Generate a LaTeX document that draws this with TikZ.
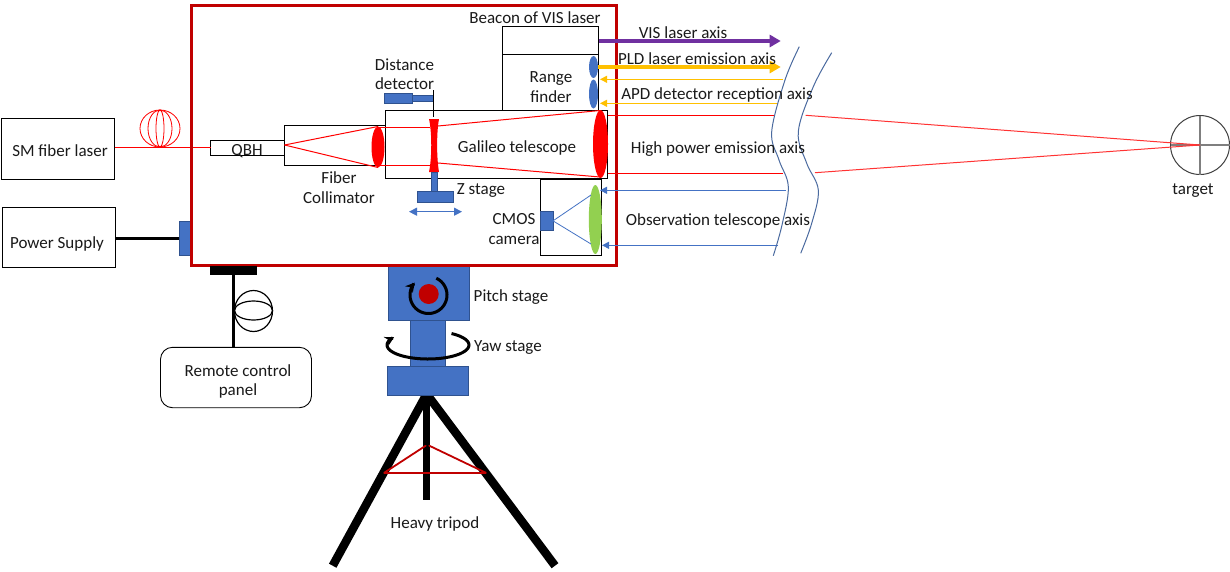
\documentclass[tikz,border=0pt]{standalone}
\usepackage{fontspec}
\setmainfont{Carlito}
\usetikzlibrary{arrows.meta,shapes.geometric}
\definecolor{frameRed}{HTML}{C00000}
\definecolor{stageBlue}{HTML}{4472C4}
\definecolor{stageEdge}{HTML}{2F528F}
\definecolor{visPurple}{HTML}{7030A0}
\definecolor{pldYellow}{HTML}{FFC000}
\definecolor{lensGreen}{HTML}{92D050}
\definecolor{breakBlue}{HTML}{4A6A9F}
\definecolor{crossGray}{HTML}{7F7F7F}
\definecolor{targetEdge}{HTML}{404040}
\definecolor{inkText}{HTML}{1A1A1A}
\tikzset{
  x=1pt,y=-1pt,
  box/.style={draw=black,line width=.9pt,inner sep=0pt,outer sep=0pt},
  txt/.style={inner sep=0pt,outer sep=0pt,align=center,text=inkText,yshift=-.8pt,font=\fontsize{17}{19.5}\selectfont},
  solid blue/.style={fill=stageBlue,draw=stageEdge,line width=1pt,inner sep=0pt,outer sep=0pt},
  lens/.style={ellipse,inner sep=0pt,outer sep=0pt,draw=none},
  beam/.style={draw=red,line width=1pt},
  thin yellow/.style={draw=pldYellow,line width=1pt,-{Triangle[length=7pt,width=7pt]}},
  thin blue/.style={draw=stageBlue,line width=1pt,-{Triangle[length=7pt,width=7pt]}},
  thick axis/.style={line width=3.6pt,-{Triangle[length=11pt,width=12pt]}},
  cable/.style={draw=black,line width=3pt},
  leg/.style={draw=black,line width=8.5pt},
  strut/.style={draw=frameRed,line width=1.8pt,line cap=round},
  turn/.style={draw=black,line width=3pt,-{Stealth[length=9pt,width=10pt]}},
  break line/.style={draw=breakBlue,line width=1pt}
}
\begin{document}
\begin{tikzpicture}
\useasboundingbox (0,0) rectangle (1230,571);
\fill[white] (0,0) rectangle (1230,571);

% boxes
\node[box,minimum width=113pt,minimum height=61pt] (sm) at (58,148.5) {};
\node[box,minimum width=113pt,minimum height=60pt] (ps) at (59,237) {};
\node[box,minimum width=74pt,minimum height=14.5pt] (qbh) at (247.5,147.75) {};
\node[box,minimum width=101pt,minimum height=40pt] (collimator) at (335,145) {};
\node[box,minimum width=221.5pt,minimum height=68pt] (galileo) at (496.25,144) {};
\node[box,minimum width=96pt,minimum height=28pt] (beacon) at (550.5,40.5) {};
\node[box,minimum width=96pt,minimum height=55.5pt] (range) at (550.5,82.25) {};
\node[box,minimum width=61pt,minimum height=76pt] (cmos) at (570.8,217.3) {};
\node[box,rounded corners=12pt,minimum width=151pt,minimum height=60.4pt] (remote) at (236,377.5) {};

% tripod
\coordinate (apex) at (426.7,394);
\coordinate (legL) at (332.7,565.7);
\coordinate (legR) at (555,565.7);
\coordinate (legC) at (426.7,500);
\draw[leg] (apex) -- (legL);
\draw[leg] (apex) -- (legR);
\draw[leg,line width=7.3pt] (apex) -- (legC);
\coordinate (sL) at (384.3,472.7);
\coordinate (sR) at (485.7,472.7);
\coordinate (sTL) at (425.7,445.7);
\coordinate (sTR) at (429.3,445.7);
\draw[strut] (sL) -- (sR);
\draw[strut] (sL) -- (sTL);
\draw[strut] (sR) -- (sTR);

% stages
\node[solid blue,minimum width=81.4pt,minimum height=55.2pt] (pitch) at (429,293.1) {};
\node[solid blue,minimum width=34.7pt,minimum height=45.3pt] (yawcol) at (427.65,343.35) {};
\node[solid blue,minimum width=81.4pt,minimum height=29.7pt] (yawbase) at (428,380.85) {};
\node[circle,fill=frameRed,inner sep=0pt,outer sep=0pt,minimum size=20pt] (pivot) at (428.7,294) {};
\draw[turn] plot[domain=65:-222,samples=50,smooth,variable=\t] ({428.5+18.5*cos(\t)},{295-18.5*sin(\t)});
\draw[turn] plot[domain=55:-214,samples=60,smooth,variable=\t] ({428*1+41*cos(\t)},{345-14*sin(\t)});

% collimator and fibre
\coordinate (coilL) at (114.5,147.3);
\node[draw=red,ellipse,line width=.8pt,inner sep=0pt,minimum width=40pt,minimum height=37pt] (coil) at (160,128.5) {};
\node[draw=red,ellipse,line width=.8pt,inner sep=0pt,minimum width=24pt,minimum height=37pt] (coilb) at (160,128.5) {};
\node[draw=red,ellipse,line width=.8pt,inner sep=0pt,minimum width=8pt,minimum height=37pt] (coilc) at (160,128.5) {};
\draw[beam] (sm.east |- coilL) -- (qbh.west |- coilL);

% lenses
\node[lens,fill=red,minimum width=13pt,minimum height=41pt] (collens) at (378,147) {};
\node[lens,fill=red,minimum width=15pt,minimum height=68pt] (mainlens) at (600.5,144) {};
\node[lens,fill=stageBlue,minimum width=9pt,minimum height=22pt] (rf1) at (593.5,67) {};
\node[lens,fill=stageBlue,minimum width=9pt,minimum height=29pt] (rf2) at (593.5,94) {};
\node[lens,fill=lensGreen,minimum width=13pt,minimum height=69pt] (obslens) at (595.3,219.5) {};
\fill[red] (429,119) -- (439,119) .. controls (436.5,132) and (436.5,158) .. (439,172)
  -- (429,172) .. controls (432,158) and (432,132) .. (429,119) -- cycle;

% internal beams
\draw[beam] (collimator.west) -- (collens.north);
\draw[beam] (collimator.west) -- (collens.south);
\coordinate (bT) at (430,127.5);
\coordinate (bB) at (430,165.5);
\coordinate (bRT) at (438,126);
\coordinate (bRB) at (438,163);
\coordinate (mT) at (600,110.5);
\coordinate (mB) at (600,177);
\draw[beam] (collens.north |- bT) -- (bT);
\draw[beam] (collens.south |- bB) -- (bB);
\draw[beam] (bRT) -- (mT);
\draw[beam] (bRB) -- (mB);

% distance detector, Z stage
\node[solid blue,minimum width=28.7pt,minimum height=10pt] (dist) at (398.35,98.3) {};
\node[solid blue,minimum width=20.3pt,minimum height=5.7pt] (distb) at (422.85,98.3) {};
\coordinate (dT) at (433,90);
\coordinate (dB) at (433,117);
\draw[draw=black,line width=1pt] (dT) -- (dB);
\node[solid blue,minimum width=5.7pt,minimum height=19pt] (zstem) at (434.15,181.5) {};
\node[solid blue,minimum width=35.7pt,minimum height=11.7pt] (zbase) at (435.15,196.85) {};
\coordinate (zaL) at (409,211.7);
\coordinate (zaR) at (462,211.7);
\draw[draw=stageBlue,color=stageBlue,line width=1.2pt,{Triangle[length=8pt,width=8pt]}-{Triangle[length=8pt,width=8pt]}] (zaL) -- (zaR);

% CMOS
\node[solid blue,minimum width=12.7pt,minimum height=19.7pt] (cam) at (546.65,220.85) {};
\coordinate (oT) at (591,195);
\coordinate (oB) at (591,244);
\draw[draw=stageBlue,line width=.8pt] (cam.east) -- (oT);
\draw[draw=stageBlue,line width=.8pt] (cam.east) -- (oB);

% main frame and fittings
\node[solid blue,minimum width=12.5pt,minimum height=34pt] (psconn) at (185.25,238) {};
\node[draw=frameRed,line width=3pt,inner sep=0pt,outer sep=0pt,minimum width=425pt,minimum height=260.5pt] (frame) at (404,135.25) {};
\draw[cable] (ps.east |- psconn) -- (psconn.west);
\node[fill=black,inner sep=0pt,outer sep=0pt,minimum width=47pt,minimum height=8.5pt] (mount) at (233.5,270.5) {};
\draw[cable] (mount.south) -- (mount.south |- remote.north);
\node[draw=black,ellipse,line width=1.2pt,inner sep=0pt,minimum width=38pt,minimum height=41pt] (globe) at (253.5,311) {};
\node[draw=black,ellipse,line width=1.2pt,inner sep=0pt,minimum width=38pt,minimum height=19pt] (globeb) at (253.5,310.5) {};

% output axes
\coordinate (visE) at (780.7,41);
\coordinate (pldE) at (780.7,67);
\draw[thick axis,draw=visPurple,color=visPurple] (beacon.east |- visE) -- (visE);
\draw[thick axis,draw=pldYellow,color=pldYellow] (rf1.east |- pldE) -- (pldE);
\coordinate (y1) at (783,79.3);
\coordinate (y2) at (778,103.3);
\coordinate (y1t) at (600,79.3);
\coordinate (y2t) at (600,103.3);
\draw[thin yellow,color=pldYellow] (y1) -- (y1t);
\draw[thin yellow,color=pldYellow] (y2) -- (y2t);
\coordinate (rT) at (775,115.3);
\coordinate (rB) at (783,173.3);
\draw[beam] (mainlens.east |- rT) -- (rT);
\draw[beam] (mainlens.east |- rB) -- (rB);
\coordinate (b1) at (786,190.3);
\coordinate (b2) at (778,245.3);
\coordinate (b1t) at (600,190.3);
\coordinate (b2t) at (602,245.3);
\draw[thin blue,color=stageBlue] (b1) -- (b1t);
\draw[thin blue,color=stageBlue] (b2) -- (b2t);

% break lines
\draw[break line] plot[smooth,tension=.6] coordinates {(799.3,46.7) (785,80) (771.7,131.7) (779,160) (788.3,186.7) (782,225) (773.3,255.7)};
\draw[break line] plot[smooth,tension=.6] coordinates {(831.7,52.7) (813.3,86.7) (798.3,131.7) (806.7,163.3) (818.3,190) (811.7,223.3) (800.7,253.3)};

% target
\node[circle,draw=targetEdge,line width=1pt,inner sep=0pt,outer sep=0pt,minimum size=59pt] (target) at (1200,145) {};
\draw[draw=crossGray,line width=1.6pt] (target.north) -- (target.south);
\draw[draw=crossGray,line width=1.6pt] (target.west) -- (target.east);
\coordinate (tT) at (805.7,115.3);
\coordinate (tB) at (815,172.7);
\draw[beam,draw=red!80!white] (tT) -- (target.center);
\draw[beam,draw=red!80!white] (tB) -- (target.center);

% labels
\node[txt] (tSM) at (60,150) {SM fiber laser};
\node[txt] (tPS) at (57,243) {Power Supply};
\node[txt] (tQBH) at (247,150) {QBH};
\node[txt] (tFC) at (339,187) {Fiber\\Collimator};
\node[txt] (tDD) at (404.5,73.5) {Distance\\detector};
\node[txt] (tRF) at (551,86.5) {Range\\finder};
\node[txt] (tBV) at (535,17) {Beacon of VIS laser};
\node[txt] (tGT) at (517,147) {Galileo telescope};
\node[txt] (tZS) at (481,190) {Z stage};
\node[txt] (tCC) at (514,228) {CMOS\\camera};
\node[txt] (tVA) at (683,32) {VIS laser axis};
\node[txt] (tPA) at (697,58) {PLD laser emission axis};
\node[txt] (tAA) at (717,94) {APD detector reception axis};
\node[txt] (tHA) at (718,148) {High power emission axis};
\node[txt] (tOA) at (718,220) {Observation telescope axis};
\node[txt] (tRC) at (238,380.5) {Remote control\\panel};
\node[txt] (tPT) at (511,296) {Pitch stage};
\node[txt] (tYS) at (508,347) {Yaw stage};
\node[txt] (tHT) at (435,523) {Heavy tripod};
\node[txt] (tTG) at (1193,190) {target};
\end{tikzpicture}
\end{document}
